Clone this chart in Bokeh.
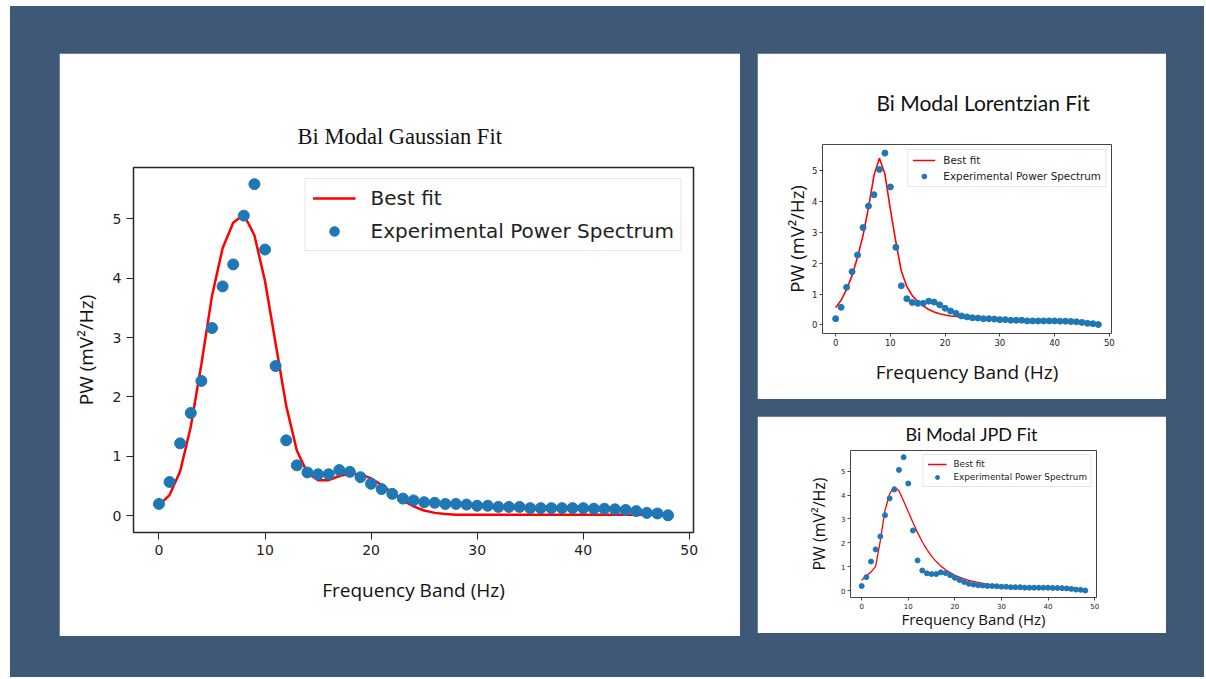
from bokeh.plotting import figure
from bokeh.layouts import row, column
from bokeh.models import FixedTicker, Legend, LegendItem
from bokeh.embed import file_html
from bokeh.resources import INLINE

# ---------------- data ----------------
freq = list(range(49))
power = [0.20, 0.57, 1.22, 1.73, 2.27, 3.16, 3.86, 4.23, 5.05, 5.58,
         4.48, 2.52, 1.27, 0.85, 0.73, 0.70, 0.70, 0.77, 0.74, 0.65,
         0.54, 0.45, 0.37, 0.29, 0.26, 0.23, 0.22, 0.20, 0.20, 0.19,
         0.17, 0.17, 0.15, 0.15, 0.15, 0.13, 0.13, 0.13, 0.13, 0.13,
         0.13, 0.12, 0.12, 0.11, 0.10, 0.08, 0.05, 0.04, 0.01]
gauss_fit = [0.18, 0.35, 0.75, 1.50, 2.55, 3.70, 4.50, 4.93, 5.07, 4.72,
             3.95, 2.90, 1.85, 1.10, 0.72, 0.60, 0.60, 0.67, 0.71, 0.70,
             0.63, 0.52, 0.39, 0.26, 0.16, 0.09, 0.05, 0.03, 0.02, 0.02,
             0.02, 0.02, 0.02, 0.02, 0.02, 0.02, 0.02, 0.02, 0.02, 0.02,
             0.02, 0.02, 0.02, 0.02, 0.02, 0.02, 0.02, 0.02, 0.02]
lorentz_fit = [0.56, 0.80, 1.15, 1.60, 2.20, 2.90, 3.80, 4.85, 5.41, 4.90,
               3.75, 2.70, 1.75, 1.25, 0.95, 0.76, 0.62, 0.50, 0.42, 0.36,
               0.32, 0.29, 0.27, 0.25, 0.23, 0.22, 0.21, 0.20, 0.19, 0.18,
               0.18, 0.17, 0.16, 0.16, 0.15, 0.15, 0.14, 0.14, 0.13, 0.13,
               0.12, 0.11, 0.10, 0.09, 0.08, 0.06, 0.05, 0.03, 0.02]
jpd_fit = [0.44, 0.62, 0.78, 1.02, 2.10, 3.35, 4.05, 4.35, 4.18, 3.75,
           3.30, 2.85, 2.43, 2.05, 1.72, 1.45, 1.22, 1.03, 0.88, 0.76,
           0.65, 0.57, 0.50, 0.44, 0.39, 0.35, 0.31, 0.28, 0.25, 0.23,
           0.21, 0.19, 0.18, 0.17, 0.16, 0.15, 0.14, 0.13, 0.13, 0.12,
           0.11, 0.11, 0.10, 0.09, 0.09, 0.08, 0.07, 0.06, 0.05]

titles = ["Bi Modal Gaussian Fit", "Bi Modal Lorentzian Fit", "Bi Modal JPD Fit"]
x_ticks = [0, 10, 20, 30, 40, 50]
y_ticks = [0, 1, 2, 3, 4, 5]
x_label = "Frequency Band (Hz)"
y_label = "PW (mV\u00b2/Hz)"
legend_labels = ["Best fit", "Experimental Power Spectrum"]

BG = "#405878"
BLUE = "#1f77b4"
RED = "#ff0000"


def make_panel(fit, title, cfg):
    p = figure(width=cfg["w"], height=cfg["h"], output_backend="svg",
               toolbar_location=None, x_range=(-2.4, 50.4), y_range=(-0.28, 5.86),
               min_border_left=cfg["bl"], min_border_right=cfg["br"],
               min_border_top=cfg["bt"], min_border_bottom=cfg["bb"],
               background_fill_color="white", border_fill_color="white")
    p.margin = cfg["margin"]
    p.grid.visible = False
    p.outline_line_color = cfg["frame_color"]
    p.outline_line_width = cfg["frame_w"]
    p.xaxis.ticker = FixedTicker(ticks=x_ticks)
    p.yaxis.ticker = FixedTicker(ticks=y_ticks)
    for ax in (p.xaxis, p.yaxis):
        ax.axis_line_color = None
        ax.major_tick_out = cfg["tick"]
        ax.major_tick_in = 0
        ax.minor_tick_out = 0
        ax.minor_tick_in = 0
        ax.major_tick_line_color = cfg["frame_color"]
        ax.major_label_text_font = "DejaVu Sans"
        ax.major_label_text_font_size = cfg["tick_fs"]
        ax.major_label_text_color = "#222222"
        ax.major_label_standoff = cfg["tick_so"]
        ax.axis_label_text_font = "Open Sans"
        ax.axis_label_text_font_style = "normal"
        ax.axis_label_text_color = "#111111"
    p.xaxis.axis_label = x_label
    p.yaxis.axis_label = y_label
    p.xaxis.axis_label_text_font_size = cfg["xl_fs"]
    p.yaxis.axis_label_text_font_size = cfg["yl_fs"]
    p.xaxis.axis_label_standoff = cfg["xl_so"]
    p.yaxis.axis_label_standoff = cfg["yl_so"]

    p.title.text = title
    p.title.align = "left"
    p.title.vertical_align = cfg["title_va"]
    p.title.text_font = cfg["title_font"]
    p.title.text_font_size = cfg["title_fs"]
    p.title.text_font_style = "normal"
    p.title.text_color = "#111111"
    p.title.standoff = cfg["title_so"]
    p.title.offset = cfg["title_off"]

    r_line = p.line(freq, fit, line_color=RED, line_width=cfg["lw"])
    r_pts = p.scatter(freq, power, size=cfg["ms"], fill_color=BLUE, line_color=BLUE)

    leg = Legend(items=[LegendItem(label=legend_labels[0], renderers=[r_line]),
                        LegendItem(label=legend_labels[1], renderers=[r_pts])],
                 location="top_right")
    leg.label_text_font = "DejaVu Sans"
    leg.label_text_font_size = cfg["leg_fs"]
    leg.label_text_color = "#222222"
    leg.glyph_width = cfg["gw"]
    leg.glyph_height = cfg["gh"]
    leg.label_height = cfg["gh"]
    leg.spacing = cfg["sp"]
    leg.padding = cfg["pad"]
    leg.margin = cfg["lm"]
    leg.label_standoff = cfg["lso"]
    leg.border_line_color = "#cccccc"
    leg.border_line_width = 1
    leg.background_fill_alpha = 0.8
    p.add_layout(leg)
    return p


main_cfg = dict(w=681, h=583, bl=74, br=47, bt=114, bb=104, margin=(47, 0, 0, 49),
                frame_color="#262626", frame_w=1.5, tick=7, tick_fs="14px", tick_so=5,
                xl_fs="19px", yl_fs="19px", xl_so=19, yl_so=11,
                title_font="Liberation Serif", title_fs="22.5px", title_so=38,
                title_off=164, title_va="bottom",
                lw=2.5, ms=11, leg_fs="20px", gw=43, gh=24, sp=9, pad=7, lm=11, lso=15)
lor_cfg = dict(w=409, h=346, bl=65, br=55, bt=91, bb=66, margin=(47, 0, 0, 17),
               frame_color="#444444", frame_w=1, tick=3, tick_fs="8.5px", tick_so=2,
               xl_fs="19px", yl_fs="18.5px", xl_so=10, yl_so=0,
               title_font="Lato", title_fs="21px", title_so=60,
               title_off=54, title_va="bottom",
               lw=1.6, ms=6, leg_fs="10.4px", gw=23, gh=12, sp=4, pad=4, lm=5, lso=8)
jpd_cfg = dict(w=409, h=217, bl=93, br=70, bt=34, bb=36, margin=(17, 0, 0, 17),
               frame_color="#444444", frame_w=1, tick=3, tick_fs="7px", tick_so=2,
               xl_fs="15px", yl_fs="16px", xl_so=-3, yl_so=8,
               title_font="Lato", title_fs="18px", title_so=10,
               title_off=55, title_va="middle",
               lw=1.3, ms=5, leg_fs="8.8px", gw=19, gh=10, sp=3, pad=4, lm=4, lso=7)

p_main = make_panel(gauss_fit, titles[0], main_cfg)
p_lor = make_panel(lorentz_fit, titles[1], lor_cfg)
p_jpd = make_panel(jpd_fit, titles[2], jpd_cfg)

layout = row(p_main, column(row(p_lor), row(p_jpd)), width=1194, height=671,
             styles={"background-color": BG})
layout.margin = (6, 0, 0, 10)

open("out.html", "w").write(file_html(layout, INLINE))
